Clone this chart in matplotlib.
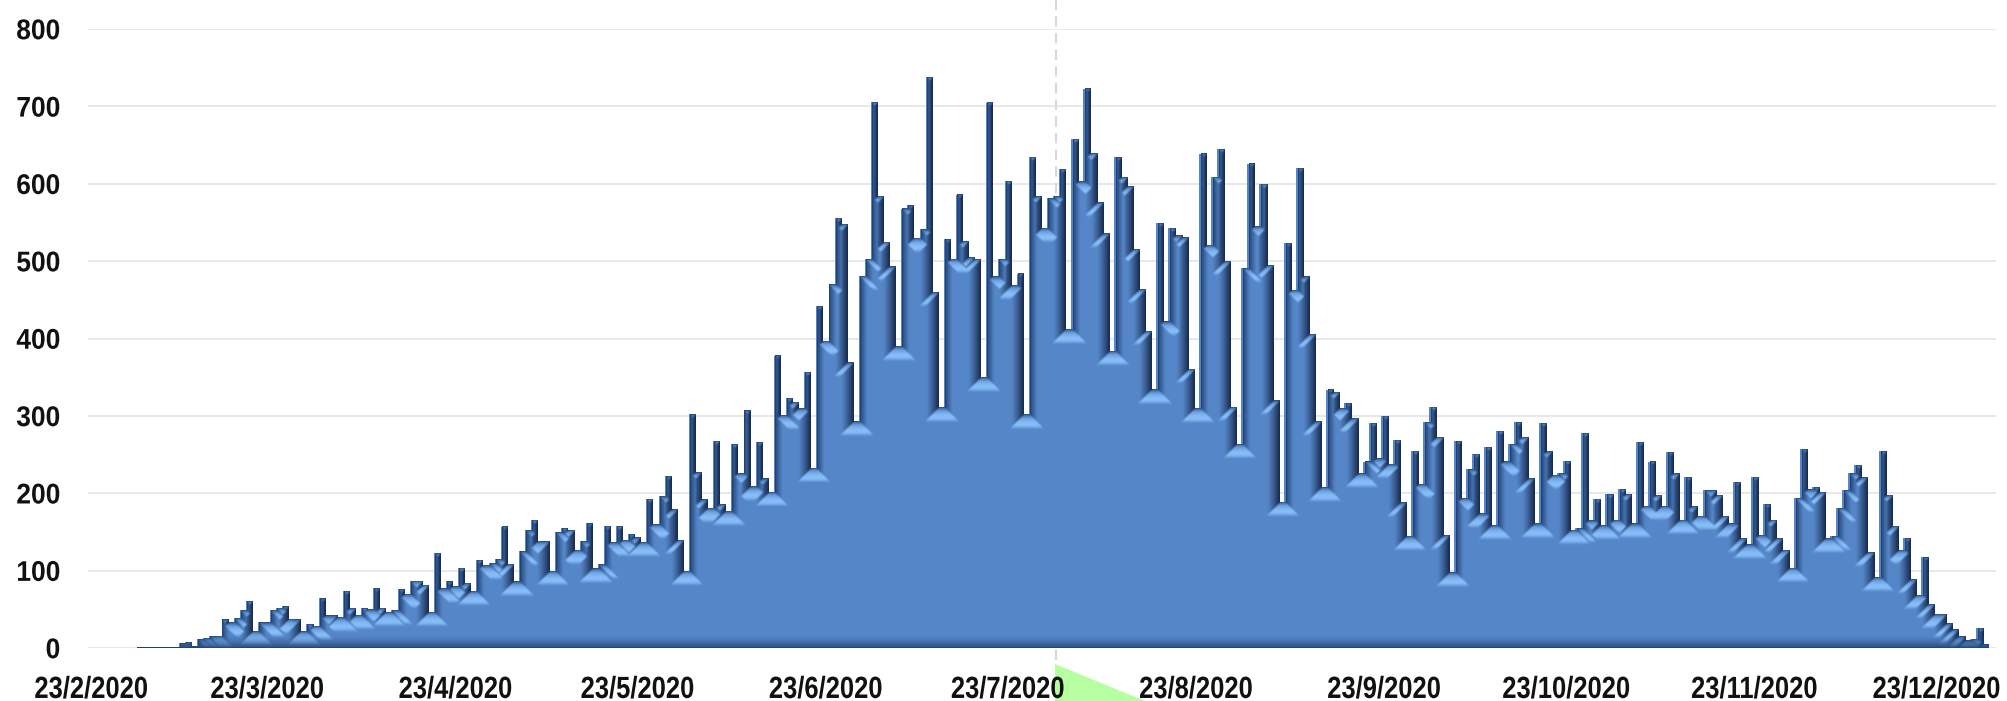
import numpy as np
import pandas as pd
import matplotlib
matplotlib.use("Agg")
import matplotlib.pyplot as plt
from matplotlib.patches import Polygon
from matplotlib.colors import to_rgb
from matplotlib.patheffects import AbstractPathEffect
from matplotlib.transforms import Affine2D
import matplotlib.dates as mdates

W_PX, H_PX = 2007, 701
PX_PER_DAY = 6.07
PX_PER_UNIT = 0.774
BEVEL = 15

first_day = "2020-03-02"
tick_dates = ["2020-02-23", "2020-03-23", "2020-04-23", "2020-05-23", "2020-06-23", "2020-07-23",
              "2020-08-23", "2020-09-23", "2020-10-23", "2020-11-23", "2020-12-23"]
tick_labels = ["23/2/2020", "23/3/2020", "23/4/2020", "23/5/2020", "23/6/2020", "23/7/2020",
               "23/8/2020", "23/9/2020", "23/10/2020", "23/11/2020", "23/12/2020"]
y_ticks = [0, 100, 200, 300, 400, 500, 600, 700, 800]
marker_day = "2020-07-31"

# daily values
vals_a = [1, 1, 1, 1, 1, 1, 1, 6, 8, 2, 11, 13, 15, 16, 37, 33, 39, 49, 61, 22, 33, 33, 49, 52, 54,
          38, 37, 22, 31, 29, 64, 42, 42, 40, 74, 52, 43, 52, 50, 77, 52, 47, 49, 76, 70, 87, 87,
          82, 47, 123, 77, 86, 80, 104, 84, 74, 114, 107, 110, 115, 157, 109, 86, 125, 152, 166,
          138, 138, 100, 150, 155, 153, 127, 138, 161, 103, 108, 158, 137, 158, 140, 147, 143,
          137, 193, 160, 196, 222, 179, 140, 100]
vals_b = [302, 227, 192, 181, 268, 186, 177, 264, 226, 307, 209, 266, 219, 202, 378, 301, 323, 318,
          310, 357, 233, 442, 397, 470, 556, 548, 369, 293, 481, 503, 706, 584, 525, 493, 390, 568,
          572, 530, 541, 738, 460, 311, 528, 503, 586, 526, 505, 503, 350, 705, 480, 503, 604,
          469, 484, 302]
vals_c = [635, 584, 543, 581, 584, 619, 412, 658, 603, 723, 640, 576, 536, 384, 634, 609, 597, 516,
          464, 410, 334, 549, 422, 543, 533, 531, 361, 310, 639, 521, 609, 645, 500, 312, 264, 491,
          626, 545, 600, 495, 320, 189, 523, 463, 620, 480, 406, 293, 208]
vals_d = [334, 331, 310, 316, 297, 226, 241, 291, 245, 300, 238, 269, 188, 145, 255, 212, 292, 312,
          273, 146, 98, 267, 194, 231, 251, 174, 260, 159, 281, 241, 264, 292, 273, 219, 161, 291,
          254, 224, 226, 242, 153, 155, 278, 165, 193, 159, 199, 166, 206, 199, 161]
vals_e = [266, 184, 241, 198, 184, 253, 226, 166, 221, 183, 171, 204, 204, 198, 171, 161, 214, 142,
          134, 221, 146, 186, 166, 142, 127, 104, 194, 257, 205, 208, 202, 142, 145, 181, 204, 226,
          237, 221, 124, 92, 254, 198, 158, 127, 142, 89, 69, 117, 57, 44, 44, 32, 24, 15, 10, 12,
          26, 5]
values = np.array(vals_a + vals_b + vals_c + vals_d + vals_e, dtype=float)
days = pd.date_range(first_day, periods=len(values), freq="D")

BASE = "#5586C8"
LIGHT = "#86BDF8"
RIGHT_DARK = "#122343"
LEFT_DARK = "#1F3F70"
TOP_DARK = "#2C5A96"
FLOOR_DARK = "#2A4D7E"
GRID = "#E2E2E2"


class StretchY(AbstractPathEffect):
    # the reference labels are taller than a plain bold face, so pull them up around their middle
    def __init__(self, sy):
        super().__init__()
        self.sy = sy

    def draw_path(self, renderer, gc, tpath, affine, rgbFace=None):
        ext = tpath.get_extents(affine)
        cy = (ext.y0 + ext.y1) / 2
        stretched = affine + Affine2D().translate(0, -cy).scale(1, self.sy).translate(0, cy)
        renderer.draw_path(gc, tpath, stretched, rgbFace)


def soften(arr):
    out = arr.copy()
    for axis in (0, 1):
        out = (np.roll(out, 1, axis) + 2 * out + np.roll(out, -1, axis)) / 4
    return out


def bevel_image(vals):
    # mitred bevel of the step outline, one raster cell per output pixel
    w = int(round(len(vals) * PX_PER_DAY))
    h = int(vals.max() * PX_PER_UNIT) + 2
    cols = np.minimum((np.arange(w) / PX_PER_DAY).astype(int), len(vals) - 1)
    heights = vals[cols] * PX_PER_UNIT
    pad = np.pad(heights, BEVEL + 1, constant_values=0)
    ys = np.arange(h)[:, None] + 0.5
    best = np.full((h, w), 999.0)
    kind = np.zeros((h, w), dtype=np.int8)
    for dx in range(-BEVEL - 1, BEVEL + 2):
        hs = pad[BEVEL + 1 + dx:BEVEL + 1 + dx + w][None, :]
        v = np.clip(hs - ys, 0, None)
        cheb = np.maximum(abs(dx), v)
        better = cheb < best
        best[better] = cheb[better]
        k = np.where(v > abs(dx), 0, 1 if dx < 0 else 2)
        kind[better] = k[better]
    t = np.clip(best / BEVEL, 0, 1)[..., None]
    base = np.array(to_rgb(BASE))
    # top faces: darker apex, bright band, back to base colour
    glow = np.clip(t / 0.55, 0, 1) * np.clip((1 - t) / 0.25, 0, 1)
    apex = np.clip(1 - t / 0.25, 0, 1)
    top = base + (np.array(to_rgb(LIGHT)) - base) * glow + (np.array(to_rgb(TOP_DARK)) - base) * apex
    rt = np.clip(1 - best[..., None] / 13.0, 0, 1) ** 1.2
    lt = np.clip(1 - best[..., None] / 8.0, 0, 1) ** 1.1
    right = base + (np.array(to_rgb(RIGHT_DARK)) - base) * rt
    left = base + (np.array(to_rgb(LEFT_DARK)) - base) * lt
    img = np.where(kind[..., None] == 0, top, np.where(kind[..., None] == 1, left, right))
    # dark floor band along the baseline
    floor = np.clip(1 - ys / 13.0, 0, 1)[..., None] ** 1.4
    img = img + (np.array(to_rgb(FLOOR_DARK)) - img) * floor
    img = soften(img)
    alpha = (ys < heights[None, :]).astype(float)[..., None]
    return np.clip(np.concatenate([img, alpha], axis=2), 0, 1)[::-1]


plt.rcParams["font.family"] = ["Liberation Sans", "DejaVu Sans"]
fig = plt.figure(figsize=(W_PX / 100, H_PX / 100), dpi=100)

ax_l, ax_r, y_zero, y_top = 88, 1996, 648, 29
ax = fig.add_axes([ax_l / W_PX, 1 - y_zero / H_PX, (ax_r - ax_l) / W_PX, (y_zero - y_top) / H_PX])
ax.set_zorder(2)
ax.patch.set_visible(False)

d0 = mdates.date2num(pd.Timestamp(tick_dates[0]))
x_view = (d0 + (ax_l - 91) / PX_PER_DAY, d0 + (ax_r - 91) / PX_PER_DAY)

ax.set_yticks(y_ticks)
ax.set_xticks(mdates.date2num(pd.to_datetime(tick_dates)))
ax.set_xticklabels(tick_labels)
ax.grid(axis="y", color=GRID, lw=1.1, zorder=1)
ax.set_axisbelow(True)
ax.tick_params(axis="both", length=0)
ax.tick_params(axis="y", pad=20, labelsize=19, colors="#111111")
ax.tick_params(axis="x", pad=21, labelsize=18.4, colors="#111111")
for lab in ax.get_yticklabels():
    lab.set_fontweight("bold")
    lab.set_path_effects([StretchY(1.08)])
for lab in ax.get_xticklabels():
    lab.set_fontweight("bold")
    lab.set_path_effects([StretchY(1.2)])
ax.spines[["top", "right", "bottom", "left"]].set_visible(False)

ax.axvline(mdates.date2num(pd.Timestamp(marker_day)), ymin=-0.02, ymax=1.05, color="#D8D8D8",
           lw=1.5, ls=(0, (5, 3)), clip_on=False, zorder=1)

day_nums = mdates.date2num(days)
ax.bar(day_nums, values, width=1.0, color=BASE, linewidth=0, zorder=2)

img = bevel_image(values)
x_lo, x_hi = day_nums[0] - 0.5, day_nums[-1] + 0.5
ax.imshow(img, extent=[x_lo, x_hi, 0, img.shape[0] / PX_PER_UNIT], aspect="auto",
          interpolation="nearest", zorder=3)
ax.set_xlim(*x_view)
ax.set_ylim(0, 800)

tri = Polygon([(1055 / W_PX, 1 - 664 / H_PX), (1055 / W_PX, 0), (1145 / W_PX, 0)],
              closed=True, transform=fig.transFigure, facecolor="#B6FFA0", edgecolor="none", zorder=-1)
fig.add_artist(tri)

fig.savefig("out.png", dpi=100)
